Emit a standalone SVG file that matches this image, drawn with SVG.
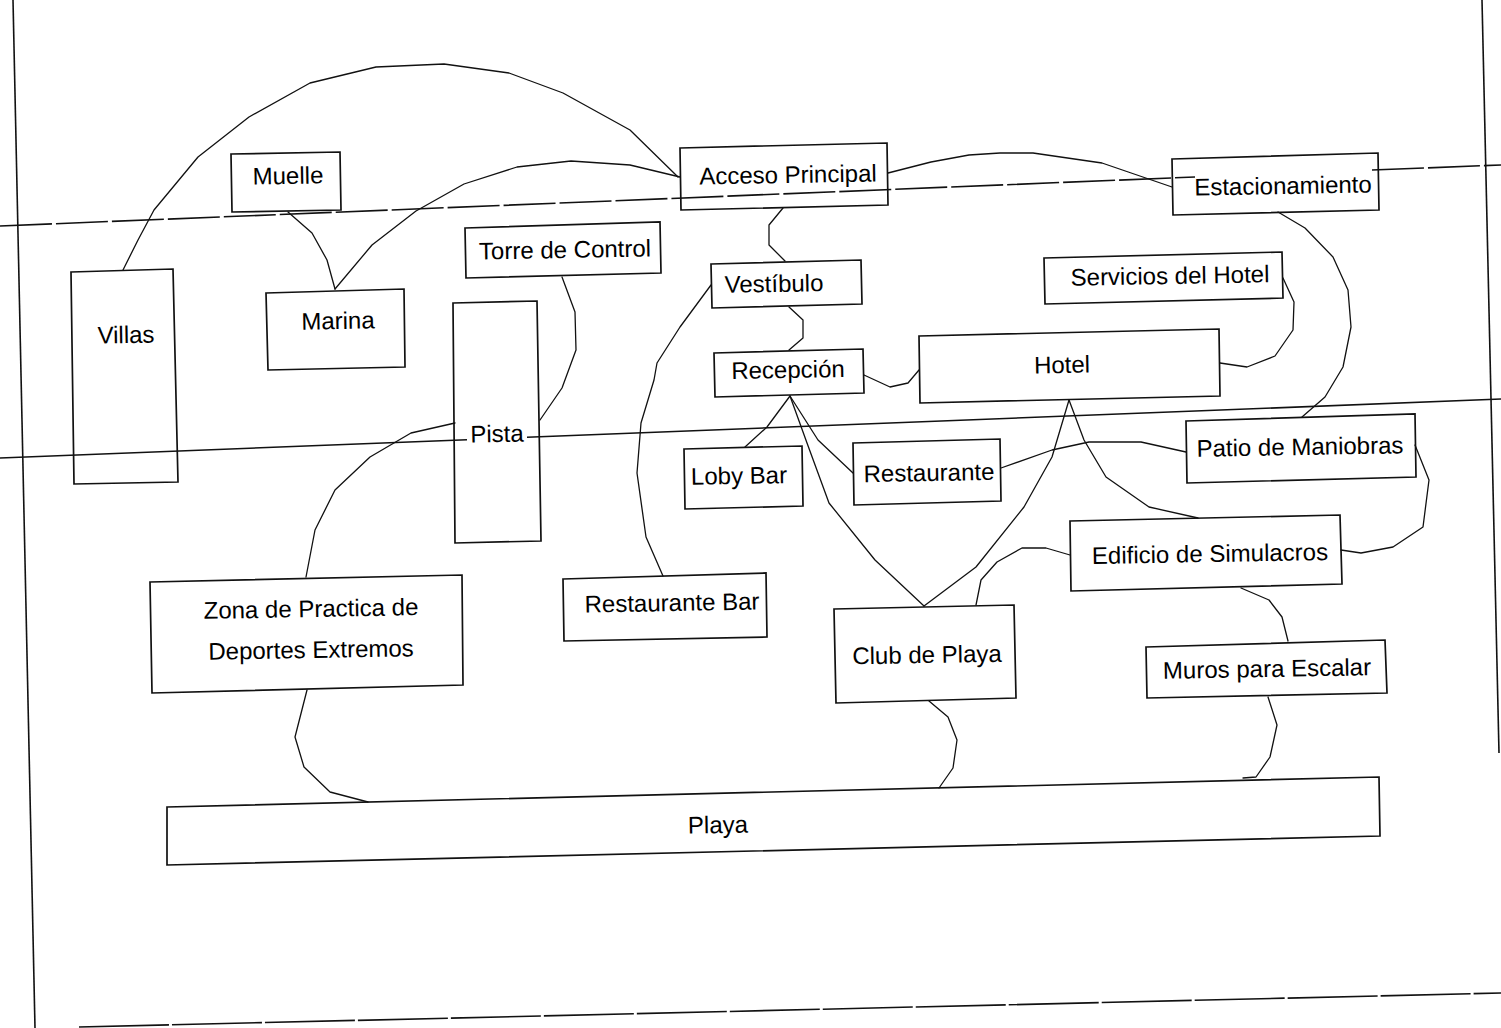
<svg xmlns="http://www.w3.org/2000/svg" width="1501" height="1028" viewBox="0 0 1501 1028">
<style>
.bg{fill:#ffffff}
.box{fill:none;stroke:#111;stroke-width:1.7;stroke-linejoin:miter}
.lbl{font-family:"Liberation Sans",Arial,sans-serif;font-size:24px;fill:#000;text-anchor:middle}
.con{fill:none;stroke:#111;stroke-width:1.3;stroke-linejoin:round;stroke-linecap:round}
.frame{fill:none;stroke:#111;stroke-width:1.6}
.dash{stroke-dasharray:52 4}
.dash2{stroke-dasharray:90 3}
</style>
<rect class="bg" x="0" y="0" width="1501" height="1028"/>
<g id="frame">
<line class="frame" x1="13" y1="0" x2="35" y2="1028"/>
<line class="frame" x1="1482" y1="0" x2="1499" y2="753"/>
<line class="frame dash" x1="0" y1="226" x2="1195" y2="177"/>
<line class="frame dash" x1="1372" y1="170" x2="1501" y2="165"/>
<line class="frame" x1="0" y1="458" x2="467" y2="439.7"/>
<line class="frame" x1="527" y1="437.3" x2="1501" y2="399"/>
<line class="frame dash2" x1="79" y1="1027" x2="1501" y2="993"/>
</g>
<g id="connectors">
<polyline class="con" points="123,270 138,240 154,210 198,157 249,117 310,83 376,67 444,64 509,73 563,93 630,130 678,177"/>
<polyline class="con" points="335,289 372,245 416,211 464,184 517,167 571,161 630,165 680,177"/>
<polyline class="con" points="288,212 312,233 327,260 335,289"/>
<polyline class="con" points="562,277 575,312 576,350 562,388 540,420"/>
<polyline class="con" points="455,423 411,433 370,457 335,490 315,530 306,577"/>
<polyline class="con" points="783,208 769,225 769,245 785,261"/>
<polyline class="con" points="789,307 803,320 803,338 789,350"/>
<polyline class="con" points="864,375 890,387 908,383 919,370"/>
<polyline class="con" points="711,285 680,327 657,363 654,380 641,423 637,473 646,537 663,576"/>
<polyline class="con" points="790,396 767,427 745,447"/>
<polyline class="con" points="790,396 818,440 853,473"/>
<polyline class="con" points="790,396 807,443 829,503 875,560 924,606"/>
<polyline class="con" points="1069,400 1052,457 1024,507 976,567 924,606"/>
<polyline class="con" points="1069,400 1084,440 1106,477 1149,507 1198,518"/>
<polyline class="con" points="1001,468 1052,450 1089,442 1141,442 1186,452"/>
<polyline class="con" points="1415,445 1429,480 1423,527 1393,547 1361,553 1341,550"/>
<polyline class="con" points="1070,555 1046,548 1022,548 997,562 981,580 976,605"/>
<polyline class="con" points="1241,588 1269,600 1282,617 1288,641"/>
<polyline class="con" points="1278,212 1305,228 1333,257 1348,290 1351,327 1343,367 1325,397 1302,417"/>
<polyline class="con" points="1283,278 1294,302 1293,330 1275,356 1247,367 1220,363"/>
<polyline class="con" points="888,173 931,162 969,155 1000,153 1033,153 1102,163 1172,187"/>
<polyline class="con" points="307,690 295,737 304,767 330,792 368,802"/>
<polyline class="con" points="929,701 948,717 957,740 953,768 939,788"/>
<polyline class="con" points="1268,697 1277,725 1270,757 1256,777 1243,778"/>
</g>
<g id="muelle"><polygon class="box" points="231,154 340,152 341,210 232,212"/><text class="lbl" x="288" y="184" transform="rotate(-1 288 176)">Muelle</text></g>
<g id="villas"><polygon class="box" points="71,272 173,269 178,482 74,484"/><text class="lbl" x="126" y="343" transform="rotate(-1 126 335)">Villas</text></g>
<g id="marina"><polygon class="box" points="266,293 404,289 405,367 268,370"/><text class="lbl" x="338" y="329" transform="rotate(-1 338 321)">Marina</text></g>
<g id="torre"><polygon class="box" points="465,228 660,222 661,273 466,278"/><text class="lbl" x="565" y="258" transform="rotate(-1 565 250)">Torre de Control</text></g>
<g id="pista"><polygon class="box" points="453,303 537,301 541,541 455,543"/><text class="lbl" x="497" y="442" transform="rotate(-1 497 434)">Pista</text></g>
<g id="acceso"><polygon class="box" points="680,148 887,143 888,205 681,210"/><text class="lbl" x="788" y="183" transform="rotate(-1 788 175)">Acceso Principal</text></g>
<g id="vestibulo"><polygon class="box" points="711,264 861,260 862,304 712,308"/><text class="lbl" x="774" y="292" transform="rotate(-1 774 284)">Vestíbulo</text></g>
<g id="recepcion"><polygon class="box" points="714,353 863,349 864,393 715,397"/><text class="lbl" x="788" y="378" transform="rotate(-1 788 370)">Recepción</text></g>
<g id="hotel"><polygon class="box" points="919,336 1219,329 1220,396 920,403"/><text class="lbl" x="1062" y="373" transform="rotate(-1 1062 365)">Hotel</text></g>
<g id="estacionamiento"><polygon class="box" points="1172,159 1378,153 1379,210 1173,215"/><text class="lbl" x="1283" y="194" transform="rotate(-1 1283 186)">Estacionamiento</text></g>
<g id="servicios"><polygon class="box" points="1044,258 1282,252 1283,298 1045,304"/><text class="lbl" x="1170" y="284" transform="rotate(-1 1170 276)">Servicios del Hotel</text></g>
<g id="lobybar"><polygon class="box" points="684,449 802,446 803,506 685,509"/><text class="lbl" x="739" y="484" transform="rotate(-1 739 476)">Loby Bar</text></g>
<g id="restaurante"><polygon class="box" points="853,443 1000,439 1001,501 854,505"/><text class="lbl" x="929" y="481" transform="rotate(-1 929 473)">Restaurante</text></g>
<g id="patio"><polygon class="box" points="1186,421 1415,414 1416,477 1187,483"/><text class="lbl" x="1300" y="455" transform="rotate(-1 1300 447)">Patio de Maniobras</text></g>
<g id="edificio"><polygon class="box" points="1070,521 1340,515 1342,584 1071,591"/><text class="lbl" x="1210" y="562" transform="rotate(-1 1210 554)">Edificio de Simulacros</text></g>
<g id="clubplaya"><polygon class="box" points="834,609 1014,605 1016,698 836,703"/><text class="lbl" x="927" y="663" transform="rotate(-1 927 655)">Club de Playa</text></g>
<g id="muros"><polygon class="box" points="1146,647 1385,640 1387,693 1147,698"/><text class="lbl" x="1267" y="677" transform="rotate(-1 1267 669)">Muros para Escalar</text></g>
<g id="restbar"><polygon class="box" points="563,579 766,573 767,637 564,641"/><text class="lbl" x="672" y="611" transform="rotate(-1 672 603)">Restaurante Bar</text></g>
<g id="zona"><polygon class="box" points="150,582 462,575 463,685 152,693"/><text class="lbl" x="311" y="617" transform="rotate(-1 311 609)">Zona de Practica de</text><text class="lbl" x="311" y="658" transform="rotate(-1 311 650)">Deportes Extremos</text></g>
<g id="playa"><polygon class="box" points="167,807 1379,777 1380,836 167,865"/><text class="lbl" x="718" y="833" transform="rotate(-1 718 825)">Playa</text></g>
</svg>
